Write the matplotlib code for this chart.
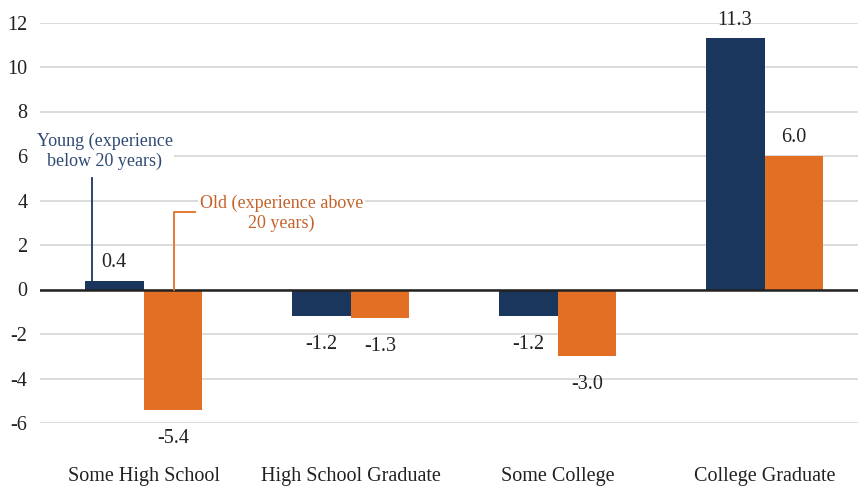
import matplotlib
matplotlib.use("Agg")
import matplotlib.pyplot as plt
import numpy as np

categories = ["Some High School", "High School Graduate", "Some College", "College Graduate"]
young = [0.4, -1.2, -1.2, 11.3]
old = [-5.4, -1.3, -3.0, 6.0]
yticks = [-6, -4, -2, 0, 2, 4, 6, 8, 10, 12]

BLUE = "#1A365D"
ORANGE = "#E36F25"
BLUE_TXT = "#2F4A73"
ORANGE_TXT = "#C4622A"

plt.rcParams['font.family'] = ['Liberation Serif', 'DejaVu Serif']

fig = plt.figure(figsize=(8.58, 4.92), dpi=100)
ax = fig.add_axes([40/858, 1 - 423/492, 828/858, (423 - 22.5)/492])

x = np.arange(len(categories))
w = 0.285
ax.bar(x - w/2, young, w, color=BLUE, zorder=3)
ax.bar(x + w/2, old, w, color=ORANGE, zorder=3)

ax.set_xlim(-0.5, 3.5)
ax.set_ylim(-6, 12)
ax.set_yticks(yticks)
ax.set_yticklabels([str(t) for t in yticks])
ax.set_xticks(x)
ax.set_xticklabels(categories)
ax.grid(axis='y', color='#D9D9D9', linewidth=1.3, zorder=0)
ax.set_axisbelow(True)
ax.axhline(0, color='#222222', linewidth=1.8, zorder=4)
for s in ax.spines.values():
    s.set_visible(False)
ax.tick_params(axis='both', length=0, labelsize=14.5, colors='#222222')
ax.tick_params(axis='y', pad=9)
ax.tick_params(axis='x', pad=32)

def label(xs, vals):
    for xi, v in zip(xs, vals):
        off = 13 if v >= 0 else -20.5
        ax.annotate(f"{v:.1f}", (xi, v), xytext=(0, off), textcoords='offset points',
                    ha='center', va='center', fontsize=14.5, color='#222222',
                    annotation_clip=False)

label(x - w/2, young)
label(x + w/2, old)

# Annotation for Young
ax.plot([-0.249, -0.249], [0.4, 5.0], color=BLUE, linewidth=1.3, zorder=5)
ax.text(-0.188, 6.2, "Young (experience\nbelow 20 years)", ha='center', va='center',
        fontsize=13, color=BLUE_TXT, linespacing=1.2,
        bbox=dict(facecolor='white', edgecolor='none', pad=1), zorder=5)

# Annotation for Old
ax.plot([0.147, 0.147, 0.249], [0, 3.48, 3.48], color=ORANGE, linewidth=1.3, zorder=5)
ax.text(0.667, 3.44, "Old (experience above\n20 years)", ha='center', va='center',
        fontsize=13, color=ORANGE_TXT, linespacing=1.2,
        bbox=dict(facecolor='white', edgecolor='none', pad=1), zorder=5)

fig.savefig("out.png", dpi=100)
